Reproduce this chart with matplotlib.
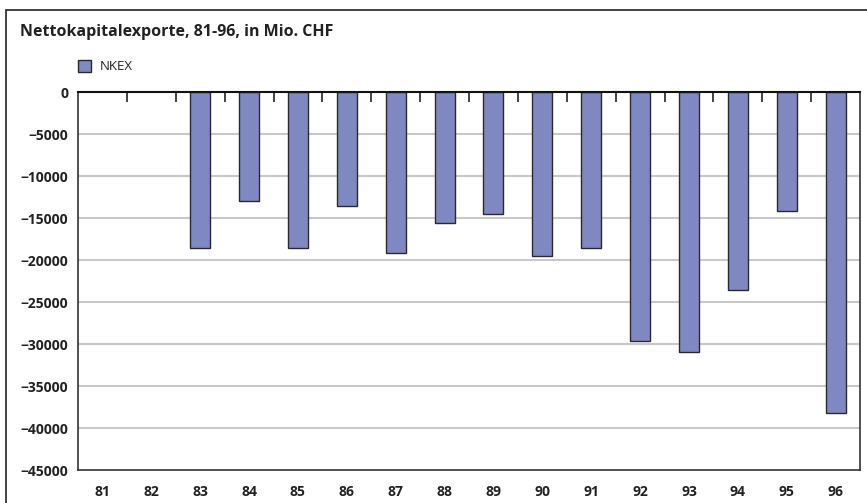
import matplotlib
matplotlib.use("Agg")
import matplotlib.pyplot as plt
from matplotlib.patches import Rectangle
import numpy as np

years = ["81", "82", "83", "84", "85", "86", "87", "88", "89", "90", "91", "92", "93", "94", "95", "96"]
nkex = [np.nan, np.nan, -18500, -13000, -18500, -13500, -19200, -15600, -14500, -19500, -18500, -29600, -30900, -23500, -14200, -38200]
yticks = [0, -5000, -10000, -15000, -20000, -25000, -30000, -35000, -40000, -45000]
title = "Nettokapitalexporte, 81-96, in Mio. CHF"
series_name = "NKEX"

plt.rcParams['font.family'] = ['Open Sans', 'DejaVu Sans']

W, H = 867, 503
fig = plt.figure(figsize=(W / 100, H / 100), dpi=100)

# outer frame (left and top visible)
fig.patches.append(Rectangle((6 / W, -0.1), 1.2, (H - 10) / H + 0.1, transform=fig.transFigure,
                             fill=False, edgecolor="#222222", linewidth=1.2))

ax = fig.add_axes([78 / W, 1 - 470 / H, (860 - 78) / W, (470 - 92.3) / H])
x = np.arange(len(years))
ax.bar(x, nkex, width=0.41, color="#7f88c0", edgecolor="#2a2a2a", linewidth=1.0, zorder=3)

ax.set_xlim(-0.5, len(years) - 0.5)
ax.set_ylim(-45000, 0)
ax.set_yticks(yticks)
ax.set_yticklabels([str(v).replace("-", "\u2212") for v in yticks], fontsize=10, fontweight="bold", color="#222222")
ax.set_xticks(x)
ax.set_xticklabels(years, fontsize=10, fontweight="bold", color="#222222")
ax.tick_params(axis="x", which="major", length=0, pad=11)
ax.tick_params(axis="y", which="major", length=0, pad=7)
ax.set_xticks(np.arange(0.5, len(years) - 0.5, 1.0), minor=True)
ax.tick_params(axis="x", which="minor", top=True, bottom=False, direction="in", length=7, width=1.2, color="#222222")

for v in yticks[1:-1]:
    ax.axhline(v, color="#c8c8c8", linewidth=1.5, zorder=1)

for s in ax.spines.values():
    s.set_color("#333333")
    s.set_linewidth(1.2)
ax.spines["top"].set_color("#111111")
ax.spines["top"].set_linewidth(1.5)
ax.spines["top"].set_zorder(4)

fig.text(20 / W, 1 - 32 / H, title, fontsize=11.5, fontweight="bold", color="#222222", va="center", ha="left")

# legend
fig.patches.append(Rectangle((78 / W, 1 - 72 / H), 13 / W, 12 / H, transform=fig.transFigure,
                             facecolor="#7f88c0", edgecolor="#2a2a2a", linewidth=1.0))
fig.text(100 / W, 1 - 67 / H, series_name, fontsize=9.5, color="#222222", va="center", ha="left")

fig.savefig("out.png", dpi=100)
